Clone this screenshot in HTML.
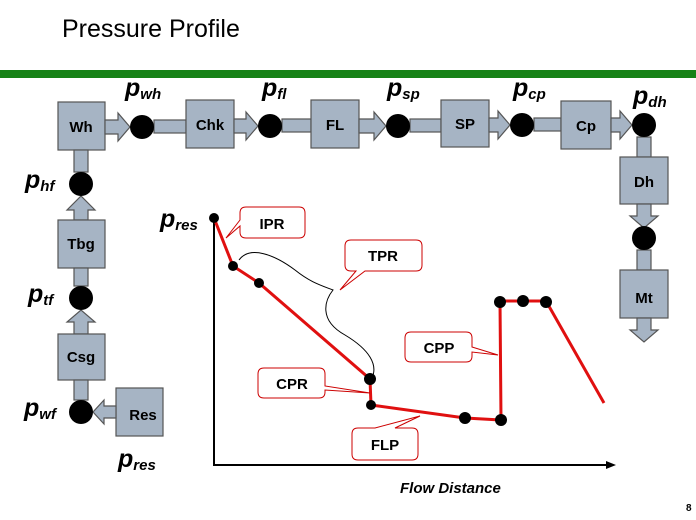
<!DOCTYPE html>
<html><head><style>
body{margin:0;background:#fff;}
svg{display:block;font-family:"Liberation Sans",sans-serif;}
.b{fill:#a6b4c4;stroke:#555;stroke-width:1.2;}
.t{font-weight:bold;font-size:15px;fill:#000;text-anchor:middle;}
.p{font-weight:bold;font-style:italic;font-size:25px;}
.s{font-size:15px;}
.c{fill:#fff;stroke:#c00;stroke-width:1;}
</style></head><body>
<svg width="696" height="520" viewBox="0 0 696 520">
<text x="62" y="37" font-size="25" fill="#000">Pressure Profile</text>
<rect x="0" y="70" width="696" height="8" fill="#178217"/>
<!-- top row -->
<g>
<rect class="b" x="58" y="102" width="47" height="48"/><text class="t" x="81" y="132">Wh</text>
<polygon class="b" points="105,120 118,120 118,113 130,127 118,141 118,134 105,134"/>
<rect class="b" x="154" y="120" width="32" height="13"/>
<rect class="b" x="186" y="100" width="48" height="48"/><text class="t" x="210" y="130">Chk</text>
<polygon class="b" points="234,119 246,119 246,112 258,126 246,140 246,133 234,133"/>
<rect class="b" x="282" y="119" width="29" height="13"/>
<rect class="b" x="311" y="100" width="48" height="48"/><text class="t" x="335" y="130">FL</text>
<polygon class="b" points="359,119 374,119 374,112 386,126 374,140 374,133 359,133"/>
<rect class="b" x="410" y="119" width="31" height="13"/>
<rect class="b" x="441" y="100" width="48" height="47"/><text class="t" x="465" y="129">SP</text>
<polygon class="b" points="489,118 498,118 498,111 510,125 498,139 498,132 489,132"/>
<rect class="b" x="534" y="118" width="27" height="13"/>
<rect class="b" x="561" y="101" width="50" height="48"/><text class="t" x="586" y="131">Cp</text>
<polygon class="b" points="611,118 620,118 620,111 632,125 620,139 620,132 611,132"/>
<rect class="b" x="637" y="137" width="14" height="20"/>
<rect class="b" x="620" y="157" width="48" height="47"/><text class="t" x="644" y="187">Dh</text>
<polygon class="b" points="637,204 651,204 651,216 658,216 644,228 630,216 637,216"/>
<rect class="b" x="637" y="250" width="14" height="20"/>
<rect class="b" x="620" y="270" width="48" height="48"/><text class="t" x="644" y="303">Mt</text>
<polygon class="b" points="637,318 651,318 651,330 658,330 644,342 630,330 637,330"/>
</g>
<!-- left column -->
<rect class="b" x="74" y="150" width="14" height="22"/>
<polygon class="b" points="74,220 74,210 67,210 81,196 95,210 88,210 88,220"/>
<rect class="b" x="58" y="220" width="47" height="48"/><text class="t" x="81" y="249">Tbg</text>
<rect class="b" x="74" y="268" width="14" height="18"/>
<polygon class="b" points="74,334 74,322 67,322 81,310 95,322 88,322 88,334"/>
<rect class="b" x="58" y="334" width="47" height="46"/><text class="t" x="81" y="362">Csg</text>
<rect class="b" x="74" y="380" width="14" height="20"/>
<rect class="b" x="116" y="388" width="47" height="48"/><text class="t" x="143" y="420">Res</text>
<polygon class="b" points="116,406 104,406 104,400 93,412 104,424 104,418 116,418"/>
<!-- circles -->
<g fill="#000">
<circle cx="142" cy="127" r="12"/><circle cx="270" cy="126" r="12"/><circle cx="398" cy="126" r="12"/>
<circle cx="522" cy="125" r="12"/><circle cx="644" cy="125" r="12"/><circle cx="644" cy="238" r="12"/>
<circle cx="81" cy="184" r="12"/><circle cx="81" cy="298" r="12"/><circle cx="81" cy="412" r="12"/>
</g>
<!-- p labels -->
<g class="p">
<text x="125" y="96">p<tspan class="s" dy="3">wh</tspan></text>
<text x="262" y="96">p<tspan class="s" dy="3">fl</tspan></text>
<text x="387" y="96">p<tspan class="s" dy="3">sp</tspan></text>
<text x="513" y="96">p<tspan class="s" dy="3">cp</tspan></text>
<text x="633" y="104">p<tspan class="s" dy="3">dh</tspan></text>
<text x="25" y="188">p<tspan class="s" dy="3">hf</tspan></text>
<text x="28" y="302">p<tspan class="s" dy="3">tf</tspan></text>
<text x="24" y="416">p<tspan class="s" dy="3">wf</tspan></text>
<text x="118" y="467">p<tspan class="s" dy="3">res</tspan></text>
<text x="160" y="227">p<tspan class="s" dy="3">res</tspan></text>
</g>
<!-- axes -->
<line x1="214" y1="218" x2="214" y2="466" stroke="#000" stroke-width="2"/>
<line x1="214" y1="465" x2="610" y2="465" stroke="#000" stroke-width="2"/>
<polygon points="616,465 606,461 606,469" fill="#000"/>
<text x="400" y="493" font-size="15" font-weight="bold" font-style="italic">Flow Distance</text>
<!-- brace -->
<path d="M239,260 C250,245 275,255 295,270 C310,282 320,285 333,290 C325,300 318,320 345,335 C370,350 378,365 372,378" fill="none" stroke="#000" stroke-width="1"/>
<!-- curve -->
<polyline points="214,218 233,266 259,283 370,379 371,405 465,418 501,420 500,301 546,301 604,403" fill="none" stroke="#e01010" stroke-width="3"/>
<g fill="#000">
<circle cx="214" cy="218" r="5"/><circle cx="233" cy="266" r="5"/><circle cx="259" cy="283" r="5"/>
<circle cx="370" cy="379" r="6"/><circle cx="371" cy="405" r="5"/><circle cx="465" cy="418" r="6"/>
<circle cx="501" cy="420" r="6"/><circle cx="500" cy="302" r="6"/><circle cx="523" cy="301" r="6"/><circle cx="546" cy="302" r="6"/>
</g>
<!-- callouts -->
<path class="c" d="M246,207 H299 Q305,207 305,213 V232 Q305,238 299,238 H246 Q240,238 240,232 V226 L226,238 L240,220 V213 Q240,207 246,207Z"/>
<text class="t" x="272" y="229">IPR</text>
<path class="c" d="M351,240 H416 Q422,240 422,246 V265 Q422,271 416,271 H365 L340,290 L356,271 H351 Q345,271 345,265 V246 Q345,240 351,240Z"/>
<text class="t" x="383" y="261">TPR</text>
<path class="c" d="M264,368 H319 Q325,368 325,374 V386 L370,393 L325,390 V392 Q325,398 319,398 H264 Q258,398 258,392 V374 Q258,368 264,368Z"/>
<text class="t" x="292" y="389">CPR</text>
<path class="c" d="M358,428 H375 L420,416 L395,428 H412 Q418,428 418,434 V454 Q418,460 412,460 H358 Q352,460 352,454 V434 Q352,428 358,428Z"/>
<text class="t" x="385" y="450">FLP</text>
<path class="c" d="M411,332 H466 Q472,332 472,338 V347 L498,355 L472,352 V356 Q472,362 466,362 H411 Q405,362 405,356 V338 Q405,332 411,332Z"/>
<text class="t" x="439" y="353">CPP</text>
<text x="686" y="511" font-size="10" font-weight="bold">8</text>
</svg>
</body></html>
